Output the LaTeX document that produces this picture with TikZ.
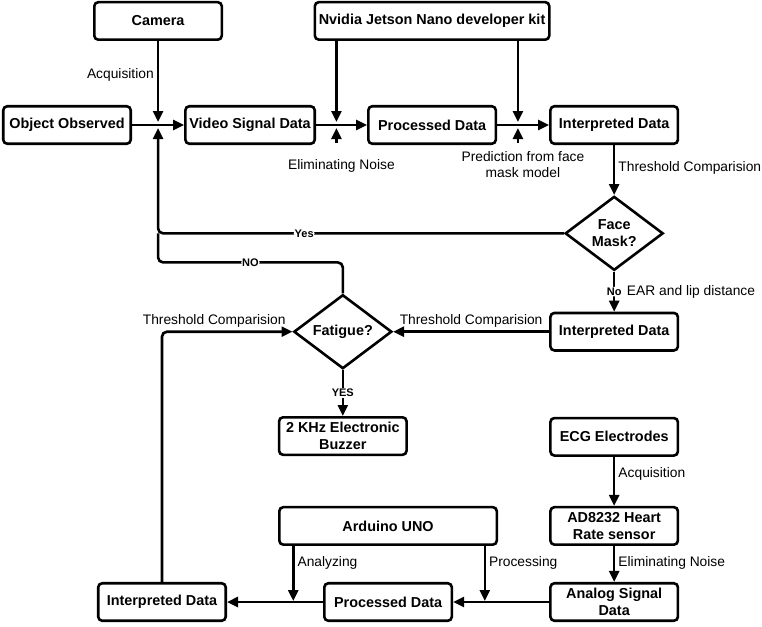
\documentclass[tikz,border=0pt]{standalone}
\usepackage{fontspec}
\setmainfont{Liberation Sans}
\usetikzlibrary{arrows.meta,positioning,calc,shapes.geometric}
\tikzset{
    %Define standard arrow tip
    >={Triangle[length=11pt,width=10pt]},
    %Define style for boxes
    boks/.style={
           rectangle,
           rounded corners=4pt,
           draw=black, line width=2.6pt,
           minimum width=127.5pt,
           minimum height=37.5pt,
           inner sep=4pt,
           font=\fontsize{14.4}{17}\selectfont\bfseries,
           align=center},
    % Define style for decisions
    rute/.style={
           diamond,
           draw=black, line width=2.6pt,
           minimum width=98pt,
           minimum height=74pt,
           inner sep=0pt,
           shape aspect=1.3,
           font=\fontsize{14.4}{17}\selectfont\bfseries,
           align=center},
    % Define arrow style
    linje/.style={
           ->,
           line width=2.6pt,
           rounded corners=5pt},
    % Define style for texts at arrows
    merke/.style={
           font=\fontsize{13.8}{16.5}\selectfont,
           align=center,
           inner sep=3pt},
    % Define style for yes/no
    svar/.style={
           anchor=center,
           fill=white,
           font=\fontsize{11}{13}\selectfont\bfseries,
           inner sep=1pt}
}

\begin{document}
\begin{tikzpicture}[node distance=50pt, auto,]
\useasboundingbox (0,0) rectangle (762pt,-626pt);

%nodes
\node[boks] (a) at (67pt,-125pt) {Object Observed};
\node[right=52pt of a, boks] (b) {Video Signal Data};
\node[right=51pt of b, boks] (c) {Processed Data};
\node[right=52pt of c, boks] (d) {Interpreted Data};
\coordinate (x1) at ($(a.east)!0.5!(b.west)$);
\coordinate (x2) at ($(b.east)!0.4!(c.west)$);
\coordinate (x3) at ($(c.east)!0.4!(d.west)$);
\node[above=84pt of x1, boks] (e) {Camera};
\node[above=64pt of c, boks, minimum width=233.5pt] (f) {Nvidia Jetson Nano developer kit};
\node[below=50pt of d, rute] (g) {Face\\Mask?};
\node[below=40pt of g, boks] (h) {Interpreted Data};
\node[left=156pt of h, rute] (i) {Fatigue?};
\node[below=46pt of i, boks] (j) {2 KHz Electronic\\Buzzer};
\node[below=65pt of h, boks] (k) {ECG Electrodes};
\node[below=49pt of k, boks] (l) {AD8232 Heart\\Rate sensor};
\node[below=36pt of l, boks] (m) {Analog Signal\\Data};
\node[left=96pt of m, boks] (n) {Processed Data};
\node[left=96pt of n, boks] (o) {Interpreted Data};
\node[above=36pt of n, boks, minimum width=217.5pt] (p) {Arduino UNO};
\coordinate (x4) at ($(n.west)!0.31!(o.east)$);
\coordinate (x5) at ($(n.east)!0.33!(m.west)$);
\coordinate (t2) at ($(x2)+(0,-18pt)$);
\coordinate (t3) at ($(x3)+(0,-18pt)$);
\coordinate (y1) at ($(i.north)+(0,31pt)$);

\draw [linje] (a) -- (b);
\draw [linje] (b) -- (c);
\draw [linje] (c) -- (d);
\draw [linje, shorten >=3pt] (e) -- node[merke, swap, pos=0.4] {Acquisition} (x1);
\draw [linje, shorten >=3pt] (f.south -| x2) -- (x2);
\draw [linje, shorten >=3pt] (f.south -| x3) -- (x3);
\draw [linje, shorten >=3pt]
    (t2) node[merke, below=12pt, xshift=5pt] {Eliminating Noise} -- (x2);
\draw [linje, shorten >=3pt]
    (t3) node[merke, below=4pt, xshift=5pt] {Prediction from face\\mask model} -- (x3);

\draw [linje] (d) -- node[merke, pos=0.46] {Threshold Comparision} (g);
\draw [linje]
    (g) -- node[svar] {No}
    node[merke, anchor=west, xshift=8.5pt] {EAR and lip distance} (h);
\draw [linje] (h) -- node[merke, swap] {Threshold Comparision} (i);
\draw [linje] (i) -- node[svar] {YES} (j);
\draw [linje] (o) |- node[merke, pos=0.7] {Threshold Comparision} (i);

\draw [linje, shorten >=3pt]
    (g) -- node[svar, pos=0.64] {Yes} (g -| x1) -- (x1);
\draw [linje, -]
    (i) -- (y1) -- node[svar] {NO} (y1 -| x1) -- (x1 |- g);

\draw [linje] (k) -- node[merke, pos=0.35] {Acquisition} (l);
\draw [linje] (l) -- node[merke, pos=0.47] {Eliminating Noise} (m);
\draw [linje] (m) -- (n);
\draw [linje] (n) -- (o);
\draw [linje, shorten >=1pt] (p.south -| x4) -- node[merke, pos=0.3] {Analyzing} (x4);
\draw [linje, shorten >=1pt] (p.south -| x5) -- node[merke, pos=0.3] {Processing} (x5);

\end{tikzpicture}
\end{document}
